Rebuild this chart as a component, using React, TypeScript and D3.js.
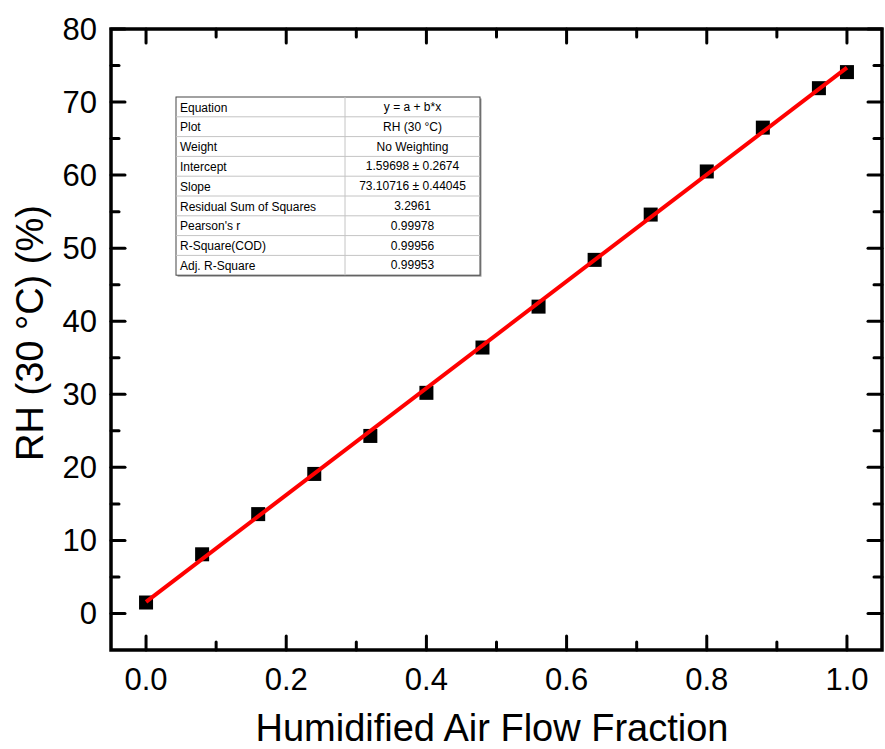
import React from "react";
import * as d3 from "d3";

// Humidified air flow fraction vs. measured relative humidity at 30 °C
const flowFraction = [0, 0.08, 0.16, 0.24, 0.32, 0.4, 0.48, 0.56, 0.64, 0.72, 0.8, 0.88, 0.96, 1.0];
const rhValues = [1.5, 8.1, 13.6, 19.1, 24.3, 30.2, 36.4, 42.0, 48.4, 54.6, 60.5, 66.5, 71.9, 74.1];

// Linear fit parameters y = a + b*x
const fitIntercept = 1.59698;
const fitSlope = 73.10716;

const xTicks = [0, 0.2, 0.4, 0.6, 0.8, 1.0];
const xMinorTicks = [0.1, 0.3, 0.5, 0.7, 0.9];
const yTicks = [0, 10, 20, 30, 40, 50, 60, 70, 80];
const yMinorTicks = [5, 15, 25, 35, 45, 55, 65, 75];

const tableRows: [string, string][] = [
  ["Equation", "y = a + b*x"],
  ["Plot", "RH (30 °C)"],
  ["Weight", "No Weighting"],
  ["Intercept", "1.59698 ± 0.2674"],
  ["Slope", "73.10716 ± 0.44045"],
  ["Residual Sum of Squares", "3.2961"],
  ["Pearson's r", "0.99978"],
  ["R-Square(COD)", "0.99956"],
  ["Adj. R-Square", "0.99953"],
];

const W = 885;
const H = 749;
const left = 111;
const right = 882;
const top = 29;
const bottom = 650;
const font = "'Liberation Sans', Arial, sans-serif";

export default function App() {
  const x = d3.scaleLinear().domain([-0.05, 1.05]).range([left, right]);
  const y = d3.scaleLinear().domain([-5, 80]).range([bottom, top]);

  const fitLine = d3
    .line<number>()
    .x((d) => x(d))
    .y((d) => y(fitIntercept + fitSlope * d));

  const majorLen = 14;
  const minorLen = 8;
  const marker = 14;

  const tX = 176;
  const tY = 97;
  const tW = 304;
  const colX = 345;
  const rowH = 19.8;

  return (
    <svg width={W} height={H} style={{ position: "absolute", left: 0, top: 0 }} fontFamily={font}>
      <rect width={W} height={H} fill="#fff" />

      {/* Fit summary table */}
      <g>
        <rect x={tX + 1.5} y={tY + 1.5} width={tW} height={rowH * tableRows.length} fill="#999" />
        <rect x={tX} y={tY} width={tW} height={rowH * tableRows.length} fill="#fff" stroke="#444" strokeWidth={1} />
        {tableRows.map((r, i) => (
          <g key={r[0]}>
            {i > 0 && (
              <line x1={tX} x2={tX + tW} y1={tY + i * rowH} y2={tY + i * rowH} stroke="#c4c4c4" strokeWidth={1} />
            )}
            <text x={tX + 4} y={tY + i * rowH + 14.5} fontSize={12} fill="#000">
              {r[0]}
            </text>
            <text x={(colX + tX + tW) / 2} y={tY + i * rowH + 14} fontSize={12} fill="#000" textAnchor="middle">
              {r[1]}
            </text>
          </g>
        ))}
        <line x1={colX} x2={colX} y1={tY} y2={tY + rowH * tableRows.length} stroke="#c4c4c4" strokeWidth={1} />
      </g>

      {/* Ticks on all four sides, pointing inward */}
      <g stroke="#000" strokeWidth={3} strokeLinecap="round">
        {xTicks.map((t) => (
          <g key={"xt" + t}>
            <line x1={x(t)} x2={x(t)} y1={bottom} y2={bottom - majorLen} />
            <line x1={x(t)} x2={x(t)} y1={top} y2={top + majorLen} />
          </g>
        ))}
        {xMinorTicks.map((t) => (
          <g key={"xm" + t}>
            <line x1={x(t)} x2={x(t)} y1={bottom} y2={bottom - minorLen} />
            <line x1={x(t)} x2={x(t)} y1={top} y2={top + minorLen} />
          </g>
        ))}
        {yTicks.map((t) => (
          <g key={"yt" + t}>
            <line x1={left} x2={left + majorLen} y1={y(t)} y2={y(t)} />
            <line x1={right} x2={right - majorLen} y1={y(t)} y2={y(t)} />
          </g>
        ))}
        {yMinorTicks.map((t) => (
          <g key={"ym" + t}>
            <line x1={left} x2={left + minorLen} y1={y(t)} y2={y(t)} />
            <line x1={right} x2={right - minorLen} y1={y(t)} y2={y(t)} />
          </g>
        ))}
      </g>

      {/* Frame */}
      <rect x={left} y={top} width={right - left} height={bottom - top} fill="none" stroke="#000" strokeWidth={3.5} />

      {/* Data markers */}
      {flowFraction.map((f, i) => (
        <rect
          key={"p" + i}
          x={x(f) - marker / 2}
          y={y(rhValues[i]) - marker / 2}
          width={marker}
          height={marker}
          fill="#000"
        />
      ))}

      {/* Fitted line */}
      <path d={fitLine([0, 1]) ?? ""} fill="none" stroke="#ff0000" strokeWidth={4} />

      {/* Tick labels */}
      {xTicks.map((t) => (
        <text key={"xl" + t} x={x(t)} y={690} fontSize={31} textAnchor="middle" fill="#000">
          {t.toFixed(1)}
        </text>
      ))}
      {yTicks.map((t) => (
        <text key={"yl" + t} x={97} y={y(t) + 11} fontSize={31} textAnchor="end" fill="#000">
          {t}
        </text>
      ))}

      {/* Axis titles */}
      <text x={492} y={741} fontSize={38} textAnchor="middle" fill="#000">
        Humidified Air Flow Fraction
      </text>
      <text transform={`translate(43,333) rotate(-90)`} fontSize={38} textAnchor="middle" fill="#000">
        RH (30 °C) (%)
      </text>
    </svg>
  );
}
